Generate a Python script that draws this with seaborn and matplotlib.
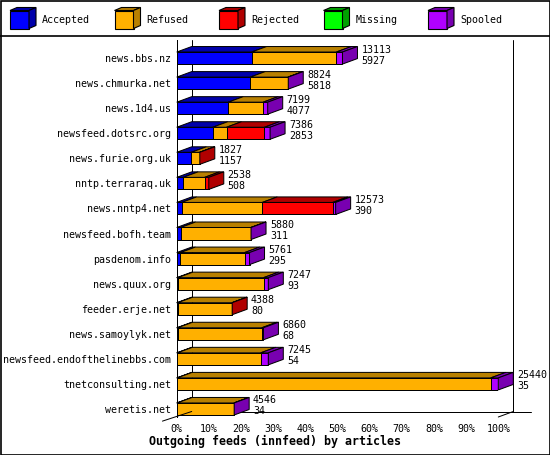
import numpy as np
import pandas as pd
import seaborn as sns
import matplotlib.pyplot as plt
from matplotlib.patches import Polygon, Rectangle

# innfeed outgoing feeds, article counts per peer
hosts = ['news.bbs.nz', 'news.chmurka.net', 'news.1d4.us', 'newsfeed.dotsrc.org',
         'news.furie.org.uk', 'nntp.terraraq.uk', 'news.nntp4.net', 'newsfeed.bofh.team',
         'pasdenom.info', 'news.quux.org', 'feeder.erje.net', 'news.samoylyk.net',
         'newsfeed.endofthelinebbs.com', 'tnetconsulting.net', 'weretis.net']
offered = [13113, 8824, 7199, 7386, 1827, 2538, 12573, 5880, 5761, 7247, 4388, 6860, 7245, 25440, 4546]
accepted = [5927, 5818, 4077, 2853, 1157, 508, 390, 311, 295, 93, 80, 68, 54, 35, 34]
refused = [6700, 2981, 2760, 1090, 658, 1700, 6380, 5559, 5080, 6784, 4296, 6662, 6591, 24805, 4492]
rejected = [0, 0, 0, 3000, 12, 330, 5570, 0, 0, 0, 12, 0, 0, 0, 0]
missing = [0, 0, 0, 0, 0, 0, 0, 0, 0, 0, 0, 0, 0, 0, 0]
spooled = [486, 25, 362, 443, 0, 0, 233, 10, 386, 370, 0, 130, 600, 600, 20]

series = ['Accepted', 'Refused', 'Rejected', 'Missing', 'Spooled']
front_colors = ['#0000ff', '#ffb000', '#ff0000', '#00ff00', '#b000ff']
dark_colors = ['#0000aa', '#b88000', '#b00000', '#00a000', '#7800b0']

sns.set_theme(style='white')
plt.rcParams['font.family'] = ['DejaVu Sans Mono']
plt.rcParams['text.color'] = 'black'

df = pd.DataFrame({'host': hosts, 'Accepted': accepted, 'Refused': refused,
                   'Rejected': rejected, 'Missing': missing, 'Spooled': spooled})
counts = df[series].to_numpy(dtype=float)
pct = counts / counts.sum(axis=1).max() * 100
cum = pct.cumsum(axis=1)
for k, s in enumerate(series):
    df['cum_' + s] = cum[:, k]

fig = plt.figure(figsize=(5.5, 4.55), dpi=100)

# background layer in pixel units: frame + legend
bg = fig.add_axes([0, 0, 1, 1])
bg.set_xlim(0, 550)
bg.set_ylim(455, 0)
bg.axis('off')
bg.add_patch(Rectangle((0.5, 0.5), 549, 454, fill=False, ec='black', lw=1.2))
bg.plot([0, 550], [35.5, 35.5], color='black', lw=1.2)
for k, s in enumerate(series):
    x0 = 10 + 104.5 * k
    bg.add_patch(Rectangle((x0, 10.5), 19, 18, fc=front_colors[k], ec='black', lw=0.8))
    bg.add_patch(Polygon([(x0, 10.5), (x0 + 7, 7.5), (x0 + 26, 7.5), (x0 + 19, 10.5)],
                         fc=dark_colors[k], ec='black', lw=0.8))
    bg.add_patch(Polygon([(x0 + 19, 10.5), (x0 + 26, 7.5), (x0 + 26, 25.5), (x0 + 19, 28.5)],
                         fc=dark_colors[k], ec='black', lw=0.8))
    bg.text(x0 + 32, 20, s, fontsize=7.2, va='center', ha='left')

ax = fig.add_axes([176.7 / 550, 1 - 417 / 455, 321.6 / 550, 377 / 455])
ax.set_facecolor('none')

bar_h = 0.48
for s in reversed(series):
    sns.barplot(data=df, x='cum_' + s, y='host', orient='h', color=front_colors[series.index(s)],
                saturation=1, width=bar_h, edgecolor='black', linewidth=0.72,
                errorbar=None, ax=ax)

DX = 15 / 3.216
DY = 5.5 / 25.07
for i in range(len(hosts)):
    top = i - bar_h / 2
    bot = i + bar_h / 2
    left = 0
    last = 0
    for k in range(len(series)):
        right = cum[i, k]
        if pct[i, k] > 0:
            ax.add_patch(Polygon([(left, top), (left + DX, top - DY), (right + DX, top - DY), (right, top)],
                                 fc=dark_colors[k], ec='black', lw=0.72, clip_on=False))
            last = k
        left = right
    end = cum[i, -1]
    ax.add_patch(Polygon([(end, top), (end + DX, top - DY), (end + DX, bot - DY), (end, bot)],
                         fc=dark_colors[last], ec='black', lw=0.72, clip_on=False))
    ax.text(end + DX + 1.2, i - 0.34, str(offered[i]), fontsize=7.2, va='center', ha='left')
    ax.text(end + DX + 1.2, i + 0.1, str(accepted[i]), fontsize=7.2, va='center', ha='left')

floor = 14.32 - DY
ax.set_xlim(0, 100)
ax.set_ylim(14.32, -0.72)
# back walls and floor
ax.plot([DX, DX], [-0.72, floor], color='black', lw=0.72, clip_on=False, zorder=0)
ax.plot([100 + DX, 100 + DX], [-0.72, floor], color='black', lw=0.72, clip_on=False, zorder=0)
ax.plot([DX, 110.2], [floor, floor], color='black', lw=0.72, clip_on=False, zorder=0)
ax.plot([DX, -DX * 0.95], [floor, 14.32 + DY * 0.75], color='black', lw=0.72, clip_on=False)
ax.plot([100, 100 + DX], [14.32, floor], color='black', lw=0.72, clip_on=False)

for side in ['top', 'right', 'bottom']:
    ax.spines[side].set_visible(False)
ax.spines['left'].set_color('black')
ax.spines['left'].set_linewidth(0.72)
ax.set_xticks(range(0, 101, 10))
ax.set_xticklabels([f'{v}%' for v in range(0, 101, 10)])
ax.tick_params(axis='x', length=5, width=0.72, direction='inout', pad=2.5, labelsize=7.2, colors='black')
ax.tick_params(axis='y', length=0, pad=4, labelsize=7.2, colors='black')
ax.set_xlabel('')
ax.set_ylabel('')

fig.text(0.5, 1 - 441 / 455, 'Outgoing feeds (innfeed) by articles', ha='center', va='center',
         fontsize=8.4, fontweight='bold')

fig.savefig('out.png', dpi=100)
